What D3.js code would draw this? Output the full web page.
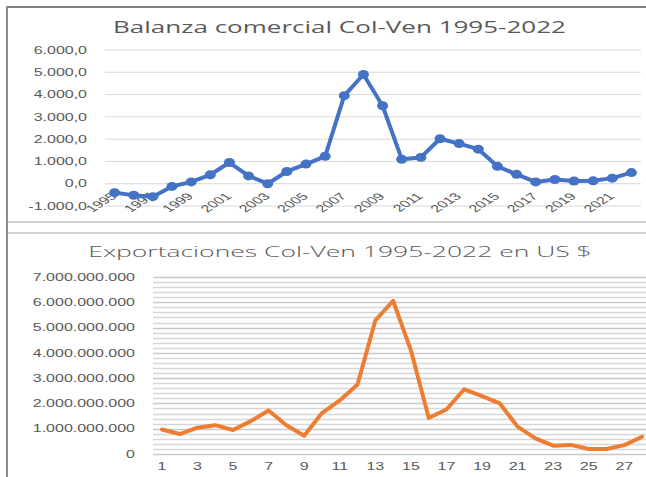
<!DOCTYPE html>
<html lang="es">
<head>
<meta charset="UTF-8">
<title>Balanza comercial Col-Ven</title>
<script src="https://d3js.org/d3.v7.min.js"></script>
<style>
  body { margin: 0; background: #fff; }
  svg { display: block; font-family: 'Open Sans', sans-serif; }
  .tick text { fill: #595959; font-size: 10px; }
  .title { fill: #595959; }
</style>
</head>
<body>
<div id="chart"></div>
<script>
// categories
const years = [1995, 1996, 1997, 1998, 1999, 2000, 2001, 2002, 2003, 2004, 2005, 2006, 2007, 2008,
               2009, 2010, 2011, 2012, 2013, 2014, 2015, 2016, 2017, 2018, 2019, 2020, 2021, 2022];
const periods = [1, 2, 3, 4, 5, 6, 7, 8, 9, 10, 11, 12, 13, 14, 15, 16, 17, 18, 19, 20, 21, 22, 23, 24, 25, 26, 27, 28];

// trade balance (millions US$)
const balanza = [-400, -520, -580, -120, 80, 400, 950, 350, 0, 550, 880, 1230, 3950, 4900,
                 3500, 1100, 1180, 2020, 1800, 1550, 780, 420, 80, 190, 120, 130, 250, 500];
// exports (millions US$)
const exportaciones = [970, 790, 1040, 1140, 950, 1300, 1720, 1140, 720, 1620, 2120, 2750, 5280, 6060,
                       4100, 1430, 1760, 2560, 2290, 2000, 1080, 620, 330, 360, 200, 200, 350, 680];

const balanzaTicks = [-1000, 0, 1000, 2000, 3000, 4000, 5000, 6000];
const exportTicks = [0, 1000, 2000, 3000, 4000, 5000, 6000, 7000];

const W = 646, H = 477;
const STRETCH = 1.6;   // the source picture is stretched sideways

const es = d3.formatLocale({decimal: ",", thousands: ".", grouping: [3], currency: ["$", ""], minus: "-"});
const fmtBal = es.format(",.1f");
const fmtExp = d => es.format(",d")(d * 1e6);

const svg = d3.select("#chart").append("svg").attr("width", W).attr("height", H);

// frames
const frame = "#a6a6a6";
svg.append("line").attr("x1", 7).attr("x2", W).attr("y1", 7).attr("y2", 7).attr("stroke", "#808080").attr("stroke-width", 2);
svg.append("line").attr("x1", 7).attr("x2", 7).attr("y1", 6).attr("y2", H).attr("stroke", "#8c8c8c").attr("stroke-width", 2);
svg.append("line").attr("x1", 7).attr("x2", W).attr("y1", 222).attr("y2", 222).attr("stroke", frame).attr("stroke-width", 1.2);
svg.append("line").attr("x1", 7).attr("x2", W).attr("y1", 233).attr("y2", 233).attr("stroke", frame).attr("stroke-width", 1.2);

function stretchTitle(sel, cx, y, target) {
  const len = sel.node().getComputedTextLength();
  sel.attr("transform", `translate(${cx},${y}) scale(${target / len},1)`);
}

// ---------- top chart ----------
const x1 = d3.scaleBand().domain(years).range([105, 641]);
const y1 = d3.scaleLinear().domain([-1000, 6000]).range([206, 50]);
const cx1 = d => x1(d) + x1.bandwidth() / 2;

const t1 = svg.append("text").attr("class", "title").attr("text-anchor", "middle")
  .style("font-size", "17px").text("Balanza comercial Col-Ven 1995-2022");
stretchTitle(t1, 339.5, 33, 453);

svg.append("g").selectAll("line").data(balanzaTicks).join("line")
  .attr("x1", 105).attr("x2", 641)
  .attr("y1", d => y1(d)).attr("y2", d => y1(d))
  .attr("stroke", "#d9d9d9").attr("stroke-width", 1);

const ay1 = svg.append("g").attr("transform", "translate(87,0)")
  .call(d3.axisLeft(y1).tickValues(balanzaTicks).tickFormat(fmtBal).tickSize(0).tickPadding(0));
ay1.select(".domain").remove();
ay1.selectAll("text").attr("transform", `scale(${STRETCH},1)`);

const ax1 = svg.append("g").attr("transform", "translate(0,197)")
  .call(d3.axisBottom(x1).tickValues(years.filter((d, i) => i % 2 === 0)).tickSize(0));
ax1.select(".domain").remove();
ax1.selectAll("text")
  .attr("x", 0).attr("y", 0).attr("dy", 0)
  .attr("text-anchor", "end")
  .attr("transform", `translate(3,0) scale(${STRETCH},1) rotate(-45)`);

const line1 = d3.line().x((d, i) => cx1(years[i])).y(d => y1(d));
svg.append("path").datum(balanza)
  .attr("d", line1).attr("fill", "none")
  .attr("stroke", "#4472C4").attr("stroke-width", 4).attr("stroke-linejoin", "round");
svg.append("g").selectAll("ellipse").data(balanza).join("ellipse")
  .attr("cx", (d, i) => cx1(years[i])).attr("cy", d => y1(d))
  .attr("rx", 5.5).attr("ry", 4.5).attr("fill", "#4472C4");

// ---------- bottom chart ----------
const x2 = d3.scaleBand().domain(periods).range([153, 651]);
const y2 = d3.scaleLinear().domain([0, 7000]).range([454, 277]);
const cx2 = d => x2(d) + x2.bandwidth() / 2;

const t2 = svg.append("text").attr("class", "title").attr("text-anchor", "middle")
  .style("font-size", "15px").style("font-weight", 300).text("Exportaciones Col-Ven 1995-2022 en US $");
stretchTitle(t2, 340, 257, 504);

const minor = d3.range(0, 7001, 200);
svg.append("g").selectAll("line").data(minor).join("line")
  .attr("x1", 153).attr("x2", W)
  .attr("y1", d => Math.round(y2(d)) + 0.5).attr("y2", d => Math.round(y2(d)) + 0.5)
  .attr("stroke", d => d % 1000 === 0 ? "#c8c8c8" : "#d6d6d6").attr("stroke-width", 1.5);

const ay2 = svg.append("g").attr("transform", "translate(135,0)")
  .call(d3.axisLeft(y2).tickValues(exportTicks).tickFormat(fmtExp).tickSize(0).tickPadding(0));
ay2.select(".domain").remove();
ay2.selectAll("text").attr("transform", `scale(${STRETCH},1)`);

const ax2 = svg.append("g").attr("transform", "translate(0,459)")
  .call(d3.axisBottom(x2).tickValues(periods.filter((d, i) => i % 2 === 0)).tickSize(0).tickPadding(4));
ax2.select(".domain").remove();
ax2.selectAll("text").attr("transform", `scale(${STRETCH},1)`);

const line2 = d3.line().x((d, i) => cx2(periods[i])).y(d => y2(d));
svg.append("path").datum(exportaciones)
  .attr("d", line2).attr("fill", "none")
  .attr("stroke", "#ED7D31").attr("stroke-width", 4)
  .attr("stroke-linejoin", "round").attr("stroke-linecap", "round");
</script>
</body>
</html>
